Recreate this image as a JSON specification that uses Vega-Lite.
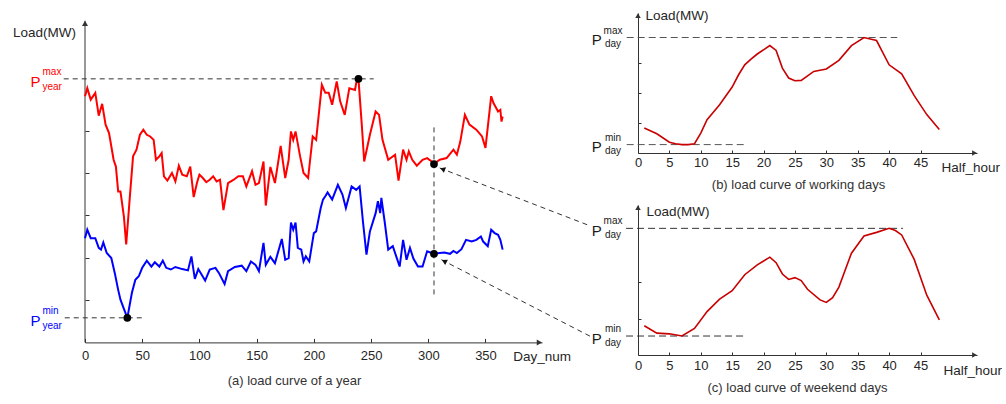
{
  "$schema": "https://vega.github.io/schema/vega-lite/v6.json",
  "autosize": {"type": "pad"},
  "padding": {"left": 12, "top": 8, "right": 0, "bottom": 0},
  "background": "white",
  "config": {
    "font": "Liberation Sans",
    "view": {"stroke": null},
    "axis": {
      "grid": false,
      "labelFont": "Liberation Sans",
      "labelFontSize": 13,
      "labelColor": "#262626",
      "titleFont": "Liberation Sans",
      "titleFontSize": 13.5,
      "titleFontWeight": "normal",
      "titleColor": "#262626",
      "titleAngle": 0,
      "titleAlign": "left",
      "titleBaseline": "middle",
      "domainColor": "#333333",
      "tickColor": "#333333",
      "domainWidth": 1,
      "tickWidth": 1,
      "labelFlush": false,
      "labelOverlap": false
    },
    "title": {"font": "Liberation Sans", "fontSize": 13, "fontWeight": "normal", "color": "#333333"}
  },
  "datasets": {
    "year": [
      {"day": 0, "load": 581, "series": "max"}, {"day": 2, "load": 600, "series": "max"}, {"day": 5, "load": 573, "series": "max"},
      {"day": 9, "load": 589, "series": "max"}, {"day": 12, "load": 535, "series": "max"}, {"day": 15, "load": 563, "series": "max"},
      {"day": 18, "load": 514, "series": "max"}, {"day": 21, "load": 494, "series": "max"}, {"day": 25, "load": 431, "series": "max"},
      {"day": 27, "load": 415, "series": "max"}, {"day": 29, "load": 356, "series": "max"}, {"day": 31, "load": 356, "series": "max"},
      {"day": 34, "load": 297, "series": "max"}, {"day": 36, "load": 231, "series": "max"}, {"day": 39, "load": 337, "series": "max"},
      {"day": 42, "load": 439, "series": "max"}, {"day": 45, "load": 455, "series": "max"}, {"day": 48, "load": 490, "series": "max"},
      {"day": 51, "load": 502, "series": "max"}, {"day": 54, "load": 490, "series": "max"}, {"day": 57, "load": 486, "series": "max"},
      {"day": 60, "load": 478, "series": "max"}, {"day": 62, "load": 431, "series": "max"}, {"day": 65, "load": 439, "series": "max"},
      {"day": 67, "load": 447, "series": "max"}, {"day": 69, "load": 392, "series": "max"}, {"day": 72, "load": 382, "series": "max"},
      {"day": 76, "load": 400, "series": "max"}, {"day": 79, "load": 380, "series": "max"}, {"day": 82, "load": 417, "series": "max"},
      {"day": 85, "load": 396, "series": "max"}, {"day": 89, "load": 392, "series": "max"}, {"day": 92, "load": 415, "series": "max"},
      {"day": 95, "load": 343, "series": "max"}, {"day": 98, "load": 378, "series": "max"}, {"day": 100, "load": 396, "series": "max"},
      {"day": 103, "load": 388, "series": "max"}, {"day": 106, "load": 378, "series": "max"}, {"day": 109, "load": 384, "series": "max"},
      {"day": 112, "load": 392, "series": "max"}, {"day": 115, "load": 380, "series": "max"}, {"day": 118, "load": 384, "series": "max"},
      {"day": 121, "load": 312, "series": "max"}, {"day": 125, "load": 376, "series": "max"}, {"day": 130, "load": 384, "series": "max"},
      {"day": 134, "load": 392, "series": "max"}, {"day": 138, "load": 392, "series": "max"}, {"day": 141, "load": 368, "series": "max"},
      {"day": 146, "load": 404, "series": "max"}, {"day": 149, "load": 372, "series": "max"}, {"day": 152, "load": 376, "series": "max"},
      {"day": 156, "load": 427, "series": "max"}, {"day": 158, "load": 323, "series": "max"}, {"day": 162, "load": 414, "series": "max"},
      {"day": 166, "load": 376, "series": "max"}, {"day": 171, "load": 464, "series": "max"}, {"day": 175, "load": 388, "series": "max"},
      {"day": 178, "load": 431, "series": "max"}, {"day": 180, "load": 498, "series": "max"}, {"day": 182, "load": 478, "series": "max"},
      {"day": 184, "load": 498, "series": "max"}, {"day": 188, "load": 439, "series": "max"}, {"day": 191, "load": 400, "series": "max"},
      {"day": 195, "load": 388, "series": "max"}, {"day": 199, "load": 486, "series": "max"}, {"day": 202, "load": 478, "series": "max"},
      {"day": 207, "load": 608, "series": "max"}, {"day": 210, "load": 589, "series": "max"}, {"day": 213, "load": 589, "series": "max"},
      {"day": 216, "load": 561, "series": "max"}, {"day": 220, "load": 616, "series": "max"}, {"day": 223, "load": 569, "series": "max"},
      {"day": 227, "load": 537, "series": "max"}, {"day": 231, "load": 600, "series": "max"}, {"day": 236, "load": 596, "series": "max"},
      {"day": 237, "load": 612, "series": "max"}, {"day": 239, "load": 622, "series": "max"}, {"day": 242, "load": 510, "series": "max"},
      {"day": 244, "load": 427, "series": "max"}, {"day": 249, "load": 490, "series": "max"}, {"day": 254, "load": 545, "series": "max"},
      {"day": 257, "load": 537, "series": "max"}, {"day": 260, "load": 478, "series": "max"}, {"day": 265, "load": 431, "series": "max"},
      {"day": 271, "load": 443, "series": "max"}, {"day": 274, "load": 382, "series": "max"}, {"day": 278, "load": 455, "series": "max"},
      {"day": 281, "load": 431, "series": "max"}, {"day": 283, "load": 451, "series": "max"}, {"day": 286, "load": 431, "series": "max"},
      {"day": 290, "load": 417, "series": "max"}, {"day": 295, "load": 431, "series": "max"}, {"day": 299, "load": 435, "series": "max"},
      {"day": 303, "load": 427, "series": "max"}, {"day": 305, "load": 421, "series": "max"}, {"day": 310, "load": 431, "series": "max"},
      {"day": 316, "load": 435, "series": "max"}, {"day": 322, "load": 455, "series": "max"}, {"day": 325, "load": 443, "series": "max"},
      {"day": 328, "load": 474, "series": "max"}, {"day": 332, "load": 537, "series": "max"}, {"day": 336, "load": 514, "series": "max"},
      {"day": 342, "load": 502, "series": "max"}, {"day": 347, "load": 486, "series": "max"}, {"day": 350, "load": 459, "series": "max"},
      {"day": 355, "load": 581, "series": "max"}, {"day": 357, "load": 565, "series": "max"}, {"day": 361, "load": 545, "series": "max"},
      {"day": 363, "load": 549, "series": "max"}, {"day": 364, "load": 521, "series": "max"}, {"day": 365, "load": 533, "series": "max"},

      {"day": 0, "load": 246, "series": "min"}, {"day": 2, "load": 266, "series": "min"}, {"day": 5, "load": 246, "series": "min"},
      {"day": 9, "load": 246, "series": "min"}, {"day": 12, "load": 223, "series": "min"}, {"day": 14, "load": 219, "series": "min"},
      {"day": 16, "load": 236, "series": "min"}, {"day": 19, "load": 211, "series": "min"}, {"day": 23, "load": 199, "series": "min"},
      {"day": 26, "load": 164, "series": "min"}, {"day": 29, "load": 124, "series": "min"}, {"day": 31, "load": 101, "series": "min"},
      {"day": 34, "load": 79, "series": "min"}, {"day": 37, "load": 58, "series": "min"}, {"day": 41, "load": 117, "series": "min"},
      {"day": 44, "load": 148, "series": "min"}, {"day": 47, "load": 156, "series": "min"}, {"day": 50, "load": 176, "series": "min"},
      {"day": 54, "load": 193, "series": "min"}, {"day": 58, "load": 179, "series": "min"}, {"day": 61, "load": 189, "series": "min"},
      {"day": 65, "load": 179, "series": "min"}, {"day": 68, "load": 193, "series": "min"}, {"day": 71, "load": 176, "series": "min"},
      {"day": 75, "load": 172, "series": "min"}, {"day": 79, "load": 178, "series": "min"}, {"day": 85, "load": 173, "series": "min"},
      {"day": 90, "load": 170, "series": "min"}, {"day": 93, "load": 203, "series": "min"}, {"day": 96, "load": 150, "series": "min"},
      {"day": 99, "load": 173, "series": "min"}, {"day": 105, "load": 146, "series": "min"}, {"day": 109, "load": 172, "series": "min"},
      {"day": 114, "load": 176, "series": "min"}, {"day": 117, "load": 164, "series": "min"}, {"day": 122, "load": 138, "series": "min"},
      {"day": 125, "load": 168, "series": "min"}, {"day": 131, "load": 178, "series": "min"}, {"day": 137, "load": 181, "series": "min"},
      {"day": 141, "load": 168, "series": "min"}, {"day": 145, "load": 191, "series": "min"}, {"day": 149, "load": 183, "series": "min"},
      {"day": 152, "load": 168, "series": "min"}, {"day": 156, "load": 235, "series": "min"}, {"day": 158, "load": 183, "series": "min"},
      {"day": 162, "load": 202, "series": "min"}, {"day": 166, "load": 187, "series": "min"}, {"day": 172, "load": 244, "series": "min"},
      {"day": 175, "load": 195, "series": "min"}, {"day": 178, "load": 199, "series": "min"}, {"day": 180, "load": 283, "series": "min"},
      {"day": 182, "load": 266, "series": "min"}, {"day": 184, "load": 283, "series": "min"}, {"day": 186, "load": 223, "series": "min"},
      {"day": 189, "load": 219, "series": "min"}, {"day": 191, "load": 191, "series": "min"}, {"day": 193, "load": 203, "series": "min"},
      {"day": 196, "load": 191, "series": "min"}, {"day": 200, "load": 258, "series": "min"}, {"day": 202, "load": 262, "series": "min"},
      {"day": 206, "load": 317, "series": "min"}, {"day": 208, "load": 337, "series": "min"}, {"day": 210, "load": 345, "series": "min"},
      {"day": 212, "load": 354, "series": "min"}, {"day": 216, "load": 337, "series": "min"}, {"day": 221, "load": 372, "series": "min"},
      {"day": 225, "load": 349, "series": "min"}, {"day": 228, "load": 317, "series": "min"}, {"day": 233, "load": 368, "series": "min"},
      {"day": 237, "load": 360, "series": "min"}, {"day": 240, "load": 368, "series": "min"}, {"day": 243, "load": 283, "series": "min"},
      {"day": 246, "load": 207, "series": "min"}, {"day": 249, "load": 262, "series": "min"}, {"day": 254, "load": 305, "series": "min"},
      {"day": 256, "load": 333, "series": "min"}, {"day": 258, "load": 305, "series": "min"}, {"day": 259, "load": 341, "series": "min"},
      {"day": 262, "load": 283, "series": "min"}, {"day": 265, "load": 219, "series": "min"}, {"day": 269, "load": 227, "series": "min"},
      {"day": 272, "load": 203, "series": "min"}, {"day": 275, "load": 179, "series": "min"}, {"day": 278, "load": 242, "series": "min"},
      {"day": 281, "load": 195, "series": "min"}, {"day": 284, "load": 223, "series": "min"}, {"day": 287, "load": 198, "series": "min"},
      {"day": 291, "load": 179, "series": "min"}, {"day": 295, "load": 179, "series": "min"}, {"day": 299, "load": 215, "series": "min"},
      {"day": 303, "load": 211, "series": "min"}, {"day": 305, "load": 209, "series": "min"}, {"day": 310, "load": 211, "series": "min"},
      {"day": 314, "load": 212, "series": "min"}, {"day": 319, "load": 209, "series": "min"}, {"day": 322, "load": 216, "series": "min"},
      {"day": 325, "load": 211, "series": "min"}, {"day": 329, "load": 220, "series": "min"}, {"day": 333, "load": 242, "series": "min"},
      {"day": 338, "load": 238, "series": "min"}, {"day": 342, "load": 242, "series": "min"}, {"day": 346, "load": 250, "series": "min"},
      {"day": 348, "load": 238, "series": "min"}, {"day": 352, "load": 227, "series": "min"}, {"day": 355, "load": 266, "series": "min"},
      {"day": 358, "load": 258, "series": "min"}, {"day": 361, "load": 254, "series": "min"}, {"day": 363, "load": 242, "series": "min"},
      {"day": 365, "load": 219, "series": "min"}
    ],
    "yearMarks": [
      {"day": 239, "load": 622}, {"day": 37, "load": 58}, {"day": 305, "load": 421}, {"day": 305, "load": 209}
    ],
    "yearGuides": [
      {"day": -18.6, "load": 622, "day2": 252.3, "load2": 622},
      {"day": -17.7, "load": 58, "day2": 50.2, "load2": 58},
      {"day": 305, "load": 507.4, "day2": 305, "load2": 112.6},
      {"day": 310, "load": 411.6, "day2": 441.1, "load2": 275.4},
      {"day": 311.5, "load": 195.2, "day2": 441.7, "load2": 14.2}
    ],
    "yearLabels": [
      {"day": 0, "load": 622, "series": "max", "p": "P", "sup": "max", "sub": "year"},
      {"day": 0, "load": 58, "series": "min", "p": "P", "sup": "min", "sub": "year"}
    ],
    "work": [
      {"hh": 1, "load": 83}, {"hh": 3, "load": 64}, {"hh": 5, "load": 36}, {"hh": 6, "load": 31}, {"hh": 7, "load": 28},
      {"hh": 8, "load": 28}, {"hh": 9, "load": 31}, {"hh": 10, "load": 66}, {"hh": 11, "load": 111}, {"hh": 13, "load": 161},
      {"hh": 15, "load": 220}, {"hh": 16, "load": 260}, {"hh": 17, "load": 294}, {"hh": 18, "load": 313}, {"hh": 19, "load": 330},
      {"hh": 21, "load": 358}, {"hh": 22, "load": 342}, {"hh": 23, "load": 283}, {"hh": 24, "load": 250}, {"hh": 25, "load": 241},
      {"hh": 26, "load": 242}, {"hh": 28, "load": 272}, {"hh": 30, "load": 280}, {"hh": 32, "load": 309}, {"hh": 34, "load": 358},
      {"hh": 36, "load": 385}, {"hh": 38, "load": 375}, {"hh": 40, "load": 294}, {"hh": 42, "load": 264}, {"hh": 44, "load": 191},
      {"hh": 46, "load": 128}, {"hh": 48, "load": 78}
    ],
    "workGuides": [
      {"hh": -1.8, "hh2": 41.3, "load": 385},
      {"hh": -1.8, "hh2": 17.1, "load": 28}
    ],
    "workLabels": [
      {"hh": 0, "load": 385, "p": "P", "sup": "max", "sub": "day"},
      {"hh": 0, "load": 28, "p": "P", "sup": "min", "sub": "day"}
    ],
    "weekend": [
      {"hh": 1, "load": 80}, {"hh": 3, "load": 60}, {"hh": 5, "load": 58}, {"hh": 7, "load": 52}, {"hh": 9, "load": 73},
      {"hh": 11, "load": 119}, {"hh": 13, "load": 153}, {"hh": 15, "load": 176}, {"hh": 17, "load": 220}, {"hh": 19, "load": 247},
      {"hh": 21, "load": 268}, {"hh": 22, "load": 253}, {"hh": 23, "load": 222}, {"hh": 24, "load": 207}, {"hh": 25, "load": 212},
      {"hh": 26, "load": 204}, {"hh": 27, "load": 180}, {"hh": 29, "load": 151}, {"hh": 30, "load": 144}, {"hh": 31, "load": 157},
      {"hh": 32, "load": 186}, {"hh": 34, "load": 279}, {"hh": 36, "load": 326}, {"hh": 38, "load": 336}, {"hh": 40, "load": 347},
      {"hh": 41, "load": 341}, {"hh": 42, "load": 329}, {"hh": 44, "load": 262}, {"hh": 46, "load": 164}, {"hh": 48, "load": 96}
    ],
    "weekendGuides": [
      {"hh": -1.9, "hh2": 42.2, "load": 347},
      {"hh": -1.9, "hh2": 17.1, "load": 52}
    ],
    "weekendLabels": [
      {"hh": 0, "load": 347, "p": "P", "sup": "max", "sub": "day"},
      {"hh": 0, "load": 52, "p": "P", "sup": "min", "sub": "day"}
    ]
  },
  "bounds": "flush",
  "spacing": 96,
  "hconcat": [
    {
      "width": 457,
      "height": 329.4,
      "title": {"text": "(a) load curve of a year", "orient": "bottom", "anchor": "middle", "frame": "group", "dx": -19, "offset": 12},
      "encoding": {
        "x": {
          "field": "day", "type": "quantitative",
          "scale": {"domain": [0, 399.4], "nice": false, "zero": false},
          "axis": {"values": [0, 50, 100, 150, 200, 250, 300, 350], "title": "Day_num", "titleX": 427.7, "titleY": 14, "tickSize": -4, "labelPadding": 11}
        },
        "y": {
          "field": "load", "type": "quantitative",
          "scale": {"domain": [0, 777.4], "nice": false, "zero": false},
          "axis": {"values": [100, 200, 300, 400, 500], "labels": false, "domain": false, "title": "Load(MW)", "titleX": -72.6, "titleY": 19.7, "tickSize": -4}
        }
      },
      "layer": [
        {
          "data": {"values": [{"day": 0, "load": 0, "load2": 759}]},
          "mark": {"type": "rule", "color": "#333333", "strokeWidth": 1, "clip": false},
          "encoding": {"y2": {"field": "load2"}}
        },
        {
          "data": {"values": [{"day": 0, "load": 753}]},
          "mark": {"type": "point", "shape": "triangle-up", "size": 36, "filled": true, "color": "#333333", "opacity": 1, "clip": false}
        },
        {
          "data": {"values": [{"day": 397.1, "load": 0}]},
          "mark": {"type": "point", "shape": "triangle-right", "size": 36, "filled": true, "color": "#333333", "opacity": 1, "clip": false}
        },
        {
          "data": {"name": "yearGuides"},
          "mark": {"type": "rule", "color": "#333333", "strokeWidth": 1, "strokeDash": [5, 4], "clip": false},
          "encoding": {"x2": {"field": "day2"}, "y2": {"field": "load2"}}
        },
        {
          "data": {"name": "year"},
          "mark": {"type": "line", "strokeWidth": 2, "clip": false},
          "encoding": {
            "color": {"field": "series", "type": "nominal", "scale": {"domain": ["max", "min"], "range": ["#ff0000", "#0000ff"]}, "legend": null}
          }
        },
        {
          "data": {"name": "yearMarks"},
          "mark": {"type": "point", "shape": "circle", "size": 60, "filled": true, "color": "#000000", "opacity": 1, "clip": false}
        },
        {
          "data": {"values": [{"day": 313.2, "load": 408.2}]},
          "mark": {"type": "point", "shape": "triangle", "angle": 291, "size": 36, "filled": true, "color": "#111111", "opacity": 1, "clip": false}
        },
        {
          "data": {"values": [{"day": 314.6, "load": 190.9}]},
          "mark": {"type": "point", "shape": "triangle", "angle": 297, "size": 36, "filled": true, "color": "#111111", "opacity": 1, "clip": false}
        },
        {
          "data": {"name": "yearLabels"},
          "mark": {"type": "text", "align": "right", "baseline": "middle", "dx": -44.5, "dy": 3.4, "fontSize": 15, "clip": false},
          "encoding": {"text": {"field": "p"}, "color": {"field": "series", "type": "nominal", "legend": null}}
        },
        {
          "data": {"name": "yearLabels"},
          "mark": {"type": "text", "align": "left", "baseline": "middle", "dx": -42.5, "dy": -7, "fontSize": 10, "clip": false},
          "encoding": {"text": {"field": "sup"}, "color": {"field": "series", "type": "nominal", "legend": null}}
        },
        {
          "data": {"name": "yearLabels"},
          "mark": {"type": "text", "align": "left", "baseline": "middle", "dx": -42.5, "dy": 7.8, "fontSize": 10, "clip": false},
          "encoding": {"text": {"field": "sub"}, "color": {"field": "series", "type": "nominal", "legend": null}}
        }
      ]
    },
    {
      "bounds": "flush",
      "spacing": 52,
      "vconcat": [
        {
          "width": 339,
          "height": 140,
          "title": {"text": "(b) load curve of working days", "orient": "bottom", "anchor": "middle", "frame": "group", "dx": -9, "offset": 5},
          "encoding": {
            "x": {
              "field": "hh", "type": "quantitative",
              "scale": {"domain": [0, 54], "nice": false, "zero": false},
              "axis": {"values": [0, 5, 10, 15, 20, 25, 30, 35, 40, 45], "title": "Half_hour", "titleX": 303, "titleY": 14, "tickSize": -3, "labelPadding": 6.5}
            },
            "y": {
              "field": "load", "type": "quantitative",
              "scale": {"domain": [0, 466.7], "nice": false, "zero": false},
              "axis": {"values": [100, 200, 300], "labels": false, "title": "Load(MW)", "titleX": 7, "titleY": 2.7, "tickSize": -3}
            }
          },
          "layer": [
            {
              "data": {"values": [{"hh": 0, "load": 458}]},
              "mark": {"type": "point", "shape": "triangle-up", "size": 30, "filled": true, "color": "#333333", "opacity": 1, "clip": false}
            },
            {
              "data": {"values": [{"hh": 53.6, "load": 0}]},
              "mark": {"type": "point", "shape": "triangle-right", "size": 30, "filled": true, "color": "#333333", "opacity": 1, "clip": false}
            },
            {
              "data": {"name": "workGuides"},
              "mark": {"type": "rule", "color": "#555555", "strokeWidth": 1, "strokeDash": [7, 4], "clip": false},
              "encoding": {"x2": {"field": "hh2"}}
            },
            {
              "data": {"name": "work"},
              "mark": {"type": "line", "color": "#c80000", "strokeWidth": 1.6, "clip": false}
            },
            {
              "data": {"name": "workLabels"},
              "mark": {"type": "text", "align": "right", "baseline": "middle", "dx": -36.3, "dy": 2, "fontSize": 15, "color": "#1a1a1a", "clip": false},
              "encoding": {"text": {"field": "p"}}
            },
            {
              "data": {"name": "workLabels"},
              "mark": {"type": "text", "align": "center", "baseline": "middle", "dx": -25, "dy": -7, "fontSize": 10, "color": "#1a1a1a", "clip": false},
              "encoding": {"text": {"field": "sup"}}
            },
            {
              "data": {"name": "workLabels"},
              "mark": {"type": "text", "align": "center", "baseline": "middle", "dx": -25, "dy": 6.5, "fontSize": 10, "color": "#1a1a1a", "clip": false},
              "encoding": {"text": {"field": "sub"}}
            }
          ]
        },
        {
          "width": 339,
          "height": 150,
          "title": {"text": "(c) load curve of weekend days", "orient": "bottom", "anchor": "middle", "frame": "group", "dx": -10, "offset": 5},
          "encoding": {
            "x": {
              "field": "hh", "type": "quantitative",
              "scale": {"domain": [0, 54], "nice": false, "zero": false},
              "axis": {"values": [0, 5, 10, 15, 20, 25, 30, 35, 40, 45], "title": "Half_hour", "titleX": 305, "titleY": 15.7, "tickSize": -3, "labelPadding": 7.5}
            },
            "y": {
              "field": "load", "type": "quantitative",
              "scale": {"domain": [0, 411], "nice": false, "zero": false},
              "axis": {"values": [100, 200], "labels": false, "title": "Load(MW)", "titleX": 8, "titleY": 6, "tickSize": -3}
            }
          },
          "layer": [
            {
              "data": {"values": [{"hh": 0, "load": 403.5}]},
              "mark": {"type": "point", "shape": "triangle-up", "size": 30, "filled": true, "color": "#333333", "opacity": 1, "clip": false}
            },
            {
              "data": {"values": [{"hh": 53.6, "load": 0}]},
              "mark": {"type": "point", "shape": "triangle-right", "size": 30, "filled": true, "color": "#333333", "opacity": 1, "clip": false}
            },
            {
              "data": {"name": "weekendGuides"},
              "mark": {"type": "rule", "color": "#333333", "strokeWidth": 1, "strokeDash": [7, 4], "clip": false},
              "encoding": {"x2": {"field": "hh2"}}
            },
            {
              "data": {"name": "weekend"},
              "mark": {"type": "line", "color": "#c80000", "strokeWidth": 1.6, "clip": false}
            },
            {
              "data": {"name": "weekendLabels"},
              "mark": {"type": "text", "align": "right", "baseline": "middle", "dx": -36.3, "dy": 2.5, "fontSize": 15, "color": "#1a1a1a", "clip": false},
              "encoding": {"text": {"field": "p"}}
            },
            {
              "data": {"name": "weekendLabels"},
              "mark": {"type": "text", "align": "center", "baseline": "middle", "dx": -25, "dy": -7, "fontSize": 10, "color": "#1a1a1a", "clip": false},
              "encoding": {"text": {"field": "sup"}}
            },
            {
              "data": {"name": "weekendLabels"},
              "mark": {"type": "text", "align": "center", "baseline": "middle", "dx": -25, "dy": 7, "fontSize": 10, "color": "#1a1a1a", "clip": false},
              "encoding": {"text": {"field": "sub"}}
            }
          ]
        }
      ]
    }
  ]
}
